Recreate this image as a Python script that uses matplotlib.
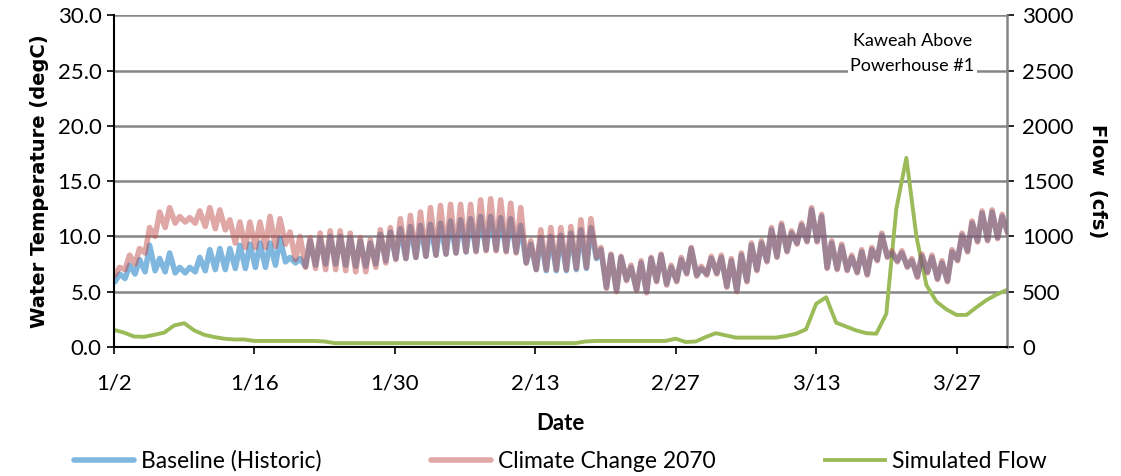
import matplotlib
matplotlib.use('Agg')
import matplotlib.pyplot as plt
import numpy as np

plt.rcParams['font.family'] = ['Lato', 'DejaVu Sans']

# daily min / max water temperature (degC), day 0 = 1/2
base_lo = [5.9, 6.2, 6.6, 6.8, 6.9, 6.8, 6.7, 6.7, 6.8, 6.9,
           7.0, 7.0, 7.1, 7.1, 7.2, 7.2, 7.4, 7.7, 7.6, 7.3,
           7.4, 7.5, 7.5, 7.4, 7.3, 7.3, 7.5, 7.8, 8.0, 8.0,
           8.1, 8.2, 8.3, 8.4, 8.5, 8.6, 8.7, 8.8, 8.8, 8.7,
           8.6, 7.6, 7.0, 6.9, 6.9, 6.9, 7.0, 7.1, 8.0, 5.4,
           5.1, 6.1, 5.2, 5.0, 6.0, 5.7, 6.0, 6.7, 6.5, 6.6,
           6.7, 5.5, 5.1, 6.0, 7.0, 7.8, 8.2, 8.7, 9.4, 9.6,
           9.6, 7.2, 7.1, 7.0, 6.8, 6.6, 7.9, 8.2, 7.8, 7.3,
           6.4, 6.8, 6.2, 6.0, 7.9, 8.7, 9.6, 9.7, 9.9, 10.4]
base_hi = [6.6, 7.4, 7.9, 9.2, 8.0, 8.5, 7.2, 7.2, 8.1, 8.8,
           8.9, 8.9, 9.2, 9.3, 9.4, 9.4, 9.8, 8.1, 8.0, 9.6,
           9.8, 10.0, 10.0, 9.9, 9.6, 9.4, 10.2, 10.4, 10.7, 10.9,
           11.0, 11.1, 11.2, 11.4, 11.5, 11.6, 11.8, 11.8, 11.7, 11.6,
           11.0, 9.3, 9.9, 10.0, 10.1, 10.3, 10.6, 10.8, 8.8, 8.3,
           8.1, 7.2, 7.6, 8.0, 8.3, 7.2, 7.9, 8.9, 7.1, 8.0,
           8.1, 7.8, 8.3, 9.2, 9.4, 10.6, 11.0, 10.3, 11.0, 12.4,
           11.8, 9.4, 9.1, 8.1, 8.6, 8.8, 10.1, 8.5, 8.5, 7.8,
           8.2, 8.1, 7.6, 8.6, 10.1, 11.2, 12.1, 12.2, 11.8, 11.4]

cc_lo = [6.5, 7.0, 7.5, 8.5, 10.0, 10.8, 11.2, 11.3, 11.2, 10.9,
         10.7, 10.6, 9.4, 9.0, 9.0, 9.0, 9.1, 9.3, 7.9, 7.2,
         7.1, 7.0, 7.0, 6.9, 6.8, 6.8, 7.2, 7.6, 7.9, 8.0,
         8.1, 8.2, 8.3, 8.4, 8.5, 8.6, 8.6, 8.7, 8.7, 8.6,
         8.5, 7.6, 7.0, 7.0, 7.0, 7.0, 7.1, 7.2, 8.1, 5.3,
         5.0, 6.0, 5.1, 4.9, 5.9, 5.6, 5.9, 6.6, 6.4, 6.5,
         6.6, 5.4, 5.0, 5.9, 6.9, 7.7, 8.1, 8.6, 9.3, 9.5,
         9.5, 7.1, 7.0, 6.9, 6.7, 6.5, 7.8, 8.1, 7.7, 7.2,
         6.3, 6.7, 6.1, 5.9, 7.8, 8.6, 9.5, 9.6, 9.8, 10.3]
cc_hi = [7.2, 8.3, 8.9, 10.8, 12.2, 12.6, 11.8, 11.7, 12.3, 12.6,
         12.4, 11.5, 11.3, 11.3, 11.3, 11.8, 11.6, 10.4, 10.0, 9.9,
         10.3, 10.5, 10.5, 10.3, 9.9, 9.7, 10.6, 10.8, 11.6, 11.9,
         12.2, 12.6, 12.8, 12.9, 12.9, 12.9, 13.3, 13.4, 13.3, 13.0,
         12.6, 9.6, 10.6, 10.8, 10.8, 10.9, 11.5, 11.6, 9.0, 8.4,
         8.2, 7.4, 7.8, 8.1, 8.4, 7.4, 8.1, 9.0, 7.3, 8.2,
         8.3, 8.0, 8.5, 9.4, 9.6, 10.8, 11.2, 10.5, 11.2, 12.6,
         12.0, 9.6, 9.3, 8.3, 8.8, 9.0, 10.3, 8.7, 8.7, 8.0,
         8.4, 8.3, 7.8, 8.8, 10.3, 11.4, 12.3, 12.4, 12.0, 11.6]

# simulated daily flow (cfs)
flow = [155, 130, 95, 92, 110, 130, 195, 215, 150, 110,
        90, 75, 68, 68, 55, 55, 55, 55, 55, 55,
        55, 50, 35, 35, 35, 35, 35, 35, 35, 35,
        35, 35, 35, 35, 35, 35, 35, 35, 35, 35,
        35, 35, 35, 35, 35, 35, 35, 50, 55, 55,
        55, 55, 55, 55, 55, 55, 75, 45, 50, 90,
        125, 105, 85, 85, 85, 85, 85, 100, 120, 160,
        390, 450, 220, 185, 150, 125, 120, 300, 1250, 1710,
        1000, 560, 410, 340, 290, 290, 360, 425, 475, 515]

tick_days = [0, 14, 28, 42, 56, 70, 84]
tick_labels = ['1/2', '1/16', '1/30', '2/13', '2/27', '3/13', '3/27']

days = np.arange(len(flow))


def zigzag(lo, hi):
    # daily low in the early morning, daily high mid afternoon
    t = np.column_stack([days + 0.1, days + 0.55]).ravel()
    v = np.column_stack([lo, hi]).ravel()
    return t, v


fig = plt.figure(figsize=(11.21, 4.76), dpi=100)
ax = fig.add_axes([0.1017, 0.271, 0.7963, 0.697])
ax2 = ax.twinx()
ax.set_zorder(ax2.get_zorder() + 1)
ax.patch.set_visible(False)

tb, vb = zigzag(base_lo, base_hi)
tc, vc = zigzag(cc_lo, cc_hi)
lb, = ax.plot(tb, vb, color='#0070C0', alpha=0.5, lw=4.0,
              solid_joinstyle='round', solid_capstyle='round')
lc, = ax.plot(tc, vc, color='#C0504D', alpha=0.5, lw=4.0,
              solid_joinstyle='round', solid_capstyle='round')
lf, = ax2.plot(days, flow, color='#9BBB59', lw=2.8)

ax.set_xlim(0, 89)
ax.set_ylim(0, 30)
ax2.set_ylim(0, 3000)
ax.set_yticks(np.arange(0, 31, 5))
ax.set_yticklabels([f'{v:.1f}' for v in np.arange(0, 31, 5)])
ax2.set_yticks(np.arange(0, 3001, 500))
ax.set_xticks(tick_days)
ax.set_xticklabels(tick_labels)

for y in range(5, 31, 5):
    ax2.axhline(y * 100, color='#868686', lw=1.8, zorder=0)

for a in (ax, ax2):
    a.tick_params(axis='both', labelsize=16, length=5, width=1.2, direction='out', color='black')
    for s in a.spines.values():
        s.set_visible(False)
ax.spines['left'].set_visible(True)
ax.spines['left'].set_linewidth(1.5)
ax.spines['bottom'].set_visible(True)
ax.spines['bottom'].set_linewidth(1.5)
ax2.spines['right'].set_visible(True)
ax2.spines['right'].set_color('#868686')
ax2.spines['right'].set_linewidth(1.8)
ax.tick_params(axis='x', pad=14)
ax.tick_params(axis='y', pad=4)
ax2.tick_params(axis='y', pad=6)

ax.set_ylabel('Water Temperature (degC)', fontsize=14, fontweight='bold',
              family='DejaVu Sans', labelpad=6)
ax2.set_ylabel('Flow  (cfs)', fontsize=14, fontweight='bold', family='DejaVu Sans',
               rotation=270, labelpad=24)
ax.set_xlabel('Date', fontsize=16, fontweight='bold', labelpad=14)

ax.text(0.964, 0.886, 'Kaweah Above\nPowerhouse #1', transform=ax.transAxes,
        ha='right', va='center', multialignment='center', fontsize=13, linespacing=1.7,
        bbox=dict(facecolor='white', edgecolor='none', pad=2))

fig.legend([lb, lc, lf], ['Baseline (Historic)', 'Climate Change 2070', 'Simulated Flow'],
           loc='lower center', bbox_to_anchor=(0.5, -0.035), ncol=3, frameon=False,
           fontsize=16.5, handlelength=2.6, handletextpad=0.3, columnspacing=4.8)

fig.savefig('out.png', dpi=100)
